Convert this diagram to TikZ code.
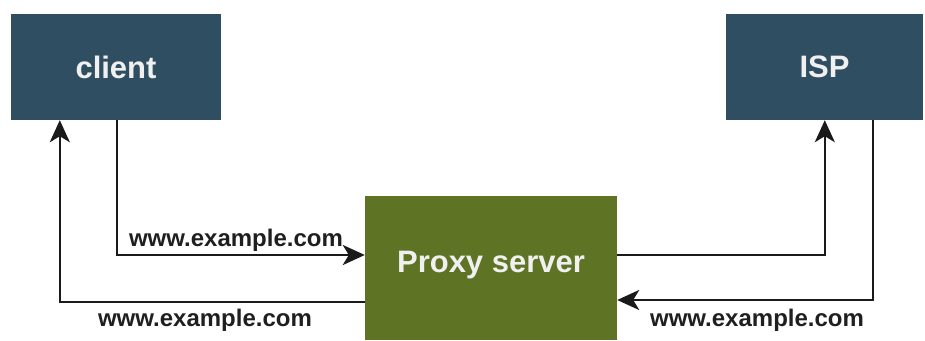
\documentclass[tikz,border=0pt]{standalone}
\usepackage{fontspec}
\setmainfont{Liberation Sans}
\usetikzlibrary{calc,arrows.meta}
\definecolor{boxblue}{HTML}{304E61}
\definecolor{boxgreen}{HTML}{5E7324}
\definecolor{linec}{HTML}{1A1A1A}
\tikzset{
  bluebox/.style={fill=boxblue, draw=none, text=white!94!black, font=\fontsize{31}{36}\selectfont\bfseries, inner sep=0pt},
  greenbox/.style={fill=boxgreen, draw=none, text=white!94!black, font=\fontsize{31}{36}\selectfont\bfseries, inner sep=0pt},
  arr/.style={draw=linec, line width=2.5pt, -{Stealth[length=22pt,width=20pt,inset=6pt]}},
  lbl/.style={font=\fontsize{24}{28}\selectfont\bfseries, text=black!88, inner sep=0pt}
}
\begin{document}
\begin{tikzpicture}[x=1pt,y=-1pt]
\useasboundingbox (0,0) rectangle (925,340);
\node[bluebox, minimum width=210pt, minimum height=106pt] (client) at (116,67) {client};
\node[bluebox, minimum width=197pt, minimum height=106pt] (isp) at (824.5,67) {ISP};
\node[greenbox, minimum width=252pt, minimum height=144pt] (proxy) at (491,268) {};
\node[text=white!94!black, font=\fontsize{31}{36}\selectfont\bfseries, inner sep=0pt] (ptext) at (491,265) {Proxy server};
% client -> proxy
\draw[arr] ($(client.south west)+(106,0)$) |- ($(proxy.west)+(0,-13)$);
% proxy -> client
\draw[arr] ($(proxy.west)+(0,34)$) -| ($(client.south west)+(49,0)$);
% proxy -> ISP
\draw[arr] ($(proxy.east)+(0,-13)$) -| ($(isp.south west)+(99,0)$);
% ISP -> proxy
\draw[arr] ($(isp.south west)+(147,0)$) |- ($(proxy.east)+(0,32)$);
\node[lbl] (l1) at (236,240) {www.example.com};
\node[lbl] (l2) at (205,320) {www.example.com};
\node[lbl] (l3) at (757,320) {www.example.com};
\end{tikzpicture}
\end{document}
